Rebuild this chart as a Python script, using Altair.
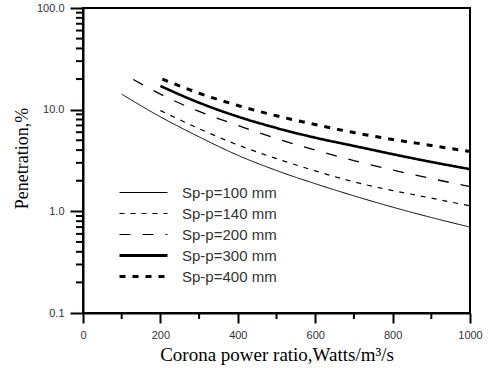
import altair as alt
import pandas as pd

series = ["Sp-p=100 mm", "Sp-p=140 mm", "Sp-p=200 mm", "Sp-p=300 mm", "Sp-p=400 mm"]

x100 = [100, 200, 300, 400, 500, 600, 700, 800, 900, 1000]
y100 = [14.2, 8.5, 5.4, 3.56, 2.52, 1.87, 1.42, 1.10, 0.87, 0.70]
x140 = [200, 300, 400, 500, 600, 700, 800, 900, 1000]
y140 = [9.8, 6.5, 4.5, 3.3, 2.5, 1.95, 1.6, 1.35, 1.13]
x200 = [130, 200, 300, 400, 500, 600, 700, 800, 900, 1000]
y200 = [19.8, 14.2, 9.6, 7.0, 5.2, 4.0, 3.15, 2.55, 2.1, 1.75]
x300 = [200, 300, 400, 500, 600, 700, 800, 900, 1000]
y300 = [17.1, 11.7, 8.55, 6.6, 5.3, 4.4, 3.65, 3.06, 2.6]
x400 = [205, 300, 400, 500, 600, 700, 800, 900, 1000]
y400 = [20.0, 14.5, 11.0, 8.7, 7.15, 5.95, 5.1, 4.45, 3.87]

x_major = [0, 200, 400, 600, 800, 1000]
x_minor = [100, 300, 500, 700, 900]
y_major = [0.1, 1, 10, 100]
y_minor = [0.2, 0.3, 0.4, 0.5, 0.6, 0.7, 0.8, 0.9,
           2, 3, 4, 5, 6, 7, 8, 9,
           20, 30, 40, 50, 60, 70, 80, 90]

dashes = [[1, 0], [5, 6], [11, 12], [1, 0], [6, 7]]
widths = [1.0, 1.2, 1.3, 2.6, 3.0]

rows = []
for name, xs, ys, w in zip(series, [x100, x140, x200, x300, x400],
                           [y100, y140, y200, y300, y400], widths):
    for xv, yv in zip(xs, ys):
        rows.append({"series": name, "x": xv, "y": yv, "w": w})
df = pd.DataFrame(rows)
xminor_df = pd.DataFrame({"x": x_minor})
yminor_df = pd.DataFrame({"y": y_minor})

xscale = alt.Scale(domain=[0, 1000], nice=False)
yscale = alt.Scale(type="log", domain=[0.1, 100], nice=False)

xaxis = alt.Axis(
    values=x_major, format="d",
    title="Corona power ratio,Watts/m\u00b3/s",
    orient="bottom", ticks=True, tickSize=10, tickWidth=2, tickColor="black",
    domainColor="black", domainWidth=2, labelFont="Liberation Sans",
    labelFontSize=11, labelColor="#333333", labelPadding=6, labelFlush=False,
    labelOverlap=False, grid=False, titleFont="Liberation Serif", titleFontSize=19,
    titleFontWeight="normal", titleColor="black", titleY=47,
    titleBaseline="alphabetic")

yaxis = alt.Axis(
    values=y_major, format=".1f",
    title="Penetration,%",
    orient="left", ticks=True, tickSize=13, tickWidth=2, tickColor="black",
    domainColor="black", domainWidth=2, labelFont="Liberation Sans",
    labelFontSize=11, labelColor="#333333", labelPadding=6, labelFlush=False,
    labelOverlap=False, grid=False, titleFont="Liberation Serif", titleFontSize=18,
    titleFontWeight="normal", titleColor="black", titleX=-56, titleY=150,
    titleBaseline="alphabetic")

legend = alt.Legend(
    title=None, orient="none", legendX=53, legendY=177,
    symbolType="M-4,0H4", symbolSize=144, labelOffset=31, padding=0,
    rowPadding=5, labelFont="Liberation Sans", labelFontSize=15,
    labelColor="#333333", symbolStrokeColor="black", symbolFillColor="transparent",
    symbolStrokeWidth=alt.ExprRef(
        expr="datum.value === 'Sp-p=300 mm' || datum.value === 'Sp-p=400 mm' ? 2.8 : 1.2"),
)

lines = alt.Chart(df).mark_line(color="black", interpolate="monotone", clip=True).encode(
    x=alt.X("x:Q", scale=xscale, axis=xaxis),
    y=alt.Y("y:Q", scale=yscale, axis=yaxis),
    strokeDash=alt.StrokeDash("series:N", scale=alt.Scale(domain=series, range=dashes), legend=legend),
    strokeWidth=alt.StrokeWidth("w:Q", scale=None, legend=None),
)

xminor = alt.Chart(xminor_df).mark_rule(color="black", strokeWidth=2).encode(
    x=alt.X("x:Q", scale=xscale, axis=xaxis),
    y=alt.value(305),
    y2=alt.value(311),
)

yminor = alt.Chart(yminor_df).mark_rule(color="black", strokeWidth=2).encode(
    y=alt.Y("y:Q", scale=yscale, axis=yaxis),
    x=alt.value(-7),
    x2=alt.value(0),
)

chart = alt.layer(lines, xminor, yminor).properties(
    width=387, height=305,
    autosize=alt.AutoSizeParams(type="none"),
    padding={"left": 83, "top": 8, "right": 20, "bottom": 55},
    background="white",
).configure_view(stroke="black", strokeWidth=2)

chart.save("out.html", embed_options={"renderer": "svg", "actions": False})
